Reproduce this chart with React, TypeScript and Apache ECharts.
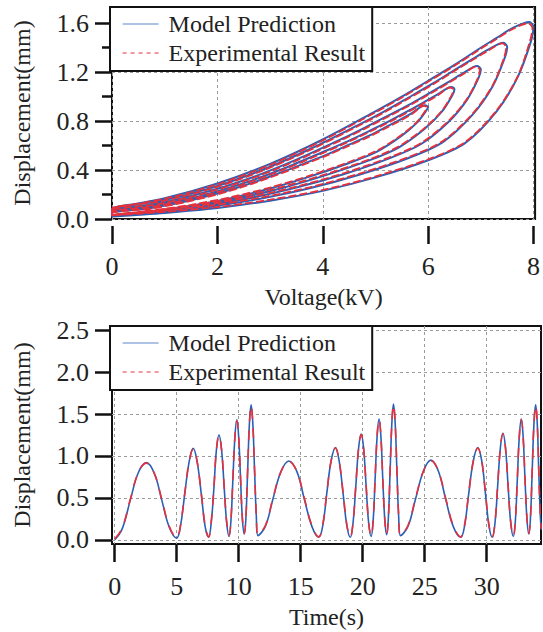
import React, { useEffect, useRef } from "react";
import * as echarts from "echarts";

const FONT = "'Liberation Serif', 'Times New Roman', serif";
const BLUE = "#2c5fb3";
const RED = "#e6303c";
const TEXT = "#222";
const GRIDC = "#9a9a9a";

const seriesNames = ["Model Prediction", "Experimental Result"];
const voltTicks = [0, 2, 4, 6, 8];
const dispTicksTop = [0, 0.4, 0.8, 1.2, 1.6];
const dispMinorTop = [0.2, 0.6, 1.0, 1.4];
const timeTicks = [0, 5, 10, 15, 20, 25, 30];
const dispTicksBottom = [0, 0.5, 1.0, 1.5, 2.0, 2.5];

// ---- hysteresis loops (voltage kV, displacement mm), model ----
const modelLoop60 = [
  [0, 0.031], [0.75, 0.062], [1.5, 0.108], [2.25, 0.17], [3, 0.249], [3.75, 0.346], [4.5, 0.458], [5.03, 0.551], [5.48, 0.675], [5.78, 0.784], [5.96, 0.883], [6.0, 0.916],
  [5.94, 0.93], [5.7, 0.868], [5.48, 0.814], [5.25, 0.763], [4.88, 0.681], [4.5, 0.608], [4.13, 0.537], [3.75, 0.471], [3, 0.347], [2.25, 0.239], [1.5, 0.154], [0.75, 0.09], [0, 0.047],
];
const modelLoop65 = [
  [0, 0.03], [0.81, 0.063], [1.63, 0.109], [2.44, 0.173], [3.25, 0.256], [4.06, 0.359], [4.88, 0.479], [5.44, 0.584], [5.93, 0.735], [6.26, 0.877], [6.46, 1.012], [6.5, 1.061],
  [6.44, 1.08], [6.18, 1.018], [5.93, 0.957], [5.69, 0.899], [5.28, 0.804], [4.88, 0.719], [4.47, 0.635], [4.06, 0.558], [3.25, 0.411], [2.44, 0.284], [1.63, 0.183], [0.81, 0.107], [0, 0.056],
];
const modelLoop70 = [
  [0, 0.029], [0.88, 0.061], [1.75, 0.107], [2.63, 0.172], [3.5, 0.257], [4.38, 0.364], [5.25, 0.494], [5.86, 0.611], [6.39, 0.795], [6.74, 0.976], [6.96, 1.155], [7.0, 1.224],
  [6.93, 1.25], [6.65, 1.188], [6.39, 1.121], [6.13, 1.055], [5.69, 0.946], [5.25, 0.847], [4.81, 0.749], [4.38, 0.658], [3.5, 0.485], [2.63, 0.335], [1.75, 0.216], [0.88, 0.126], [0, 0.067],
];
const modelLoop75 = [
  [0, 0.025], [0.94, 0.058], [1.88, 0.102], [2.81, 0.166], [3.75, 0.251], [4.69, 0.362], [5.63, 0.499], [6.28, 0.629], [6.84, 0.851], [7.22, 1.081], [7.45, 1.313], [7.5, 1.407],
  [7.43, 1.44], [7.13, 1.382], [6.84, 1.307], [6.56, 1.234], [6.09, 1.108], [5.63, 0.993], [5.16, 0.878], [4.69, 0.772], [3.75, 0.57], [2.81, 0.394], [1.88, 0.254], [0.94, 0.149], [0, 0.079],
];
const modelLoop80 = [
  [0, 0.02], [1, 0.05], [2, 0.09], [3, 0.15], [4, 0.23], [5, 0.34], [6, 0.48], [6.7, 0.62], [7.3, 0.88], [7.7, 1.16], [7.95, 1.45], [8.0, 1.57],
  [7.92, 1.61], [7.6, 1.56], [7.3, 1.48], [7, 1.4], [6.5, 1.26], [6, 1.13], [5.5, 1.0], [5, 0.88], [4, 0.65], [3, 0.45], [2, 0.29], [1, 0.17], [0, 0.09],
];

// ---- hysteresis loops, experiment ----
const expLoop60 = [
  [0, 0.036], [0.75, 0.07], [1.5, 0.116], [2.25, 0.178], [3, 0.257], [3.75, 0.354], [4.5, 0.466], [5.03, 0.559], [5.48, 0.683], [5.78, 0.79], [5.95, 0.886], [5.98, 0.913],
  [5.92, 0.925], [5.7, 0.86], [5.48, 0.806], [5.25, 0.755], [4.88, 0.673], [4.5, 0.6], [4.13, 0.529], [3.75, 0.463], [3, 0.339], [2.25, 0.232], [1.5, 0.148], [0.75, 0.086], [0, 0.05],
];
const expLoop65 = [
  [0, 0.035], [0.81, 0.071], [1.63, 0.117], [2.44, 0.181], [3.25, 0.264], [4.06, 0.367], [4.88, 0.487], [5.44, 0.592], [5.93, 0.743], [6.26, 0.884], [6.45, 1.015], [6.48, 1.058],
  [6.42, 1.075], [6.18, 1.01], [5.93, 0.949], [5.69, 0.891], [5.28, 0.796], [4.88, 0.711], [4.47, 0.627], [4.06, 0.55], [3.25, 0.403], [2.44, 0.277], [1.63, 0.177], [0.81, 0.103], [0, 0.06],
];
const expLoop70 = [
  [0, 0.034], [0.88, 0.069], [1.75, 0.115], [2.63, 0.18], [3.5, 0.265], [4.38, 0.372], [5.25, 0.502], [5.86, 0.619], [6.39, 0.803], [6.74, 0.983], [6.95, 1.158], [6.98, 1.222],
  [6.91, 1.245], [6.65, 1.18], [6.39, 1.113], [6.13, 1.047], [5.69, 0.938], [5.25, 0.839], [4.81, 0.741], [4.38, 0.65], [3.5, 0.477], [2.63, 0.328], [1.75, 0.21], [0.88, 0.122], [0, 0.07],
];
const expLoop75 = [
  [0, 0.03], [0.94, 0.066], [1.88, 0.11], [2.81, 0.174], [3.75, 0.259], [4.69, 0.37], [5.63, 0.507], [6.28, 0.637], [6.84, 0.859], [7.22, 1.088], [7.44, 1.316], [7.48, 1.404],
  [7.41, 1.435], [7.13, 1.374], [6.84, 1.299], [6.56, 1.226], [6.09, 1.1], [5.63, 0.985], [5.16, 0.87], [4.69, 0.764], [3.75, 0.562], [2.81, 0.387], [1.88, 0.248], [0.94, 0.145], [0, 0.082],
];
const expLoop80 = [
  [0, 0.03], [1, 0.058], [2, 0.098], [3, 0.158], [4, 0.238], [5, 0.348], [6, 0.488], [6.7, 0.628], [7.3, 0.888], [7.7, 1.166], [7.93, 1.45], [7.98, 1.56],
  [7.9, 1.6], [7.6, 1.552], [7.3, 1.472], [7, 1.392], [6.5, 1.252], [6, 1.122], [5.5, 0.992], [5, 0.872], [4, 0.642], [3, 0.442], [2, 0.284], [1, 0.166], [0, 0.092],
];

// ---- time series (s, mm) ----
const timeModel = [
  [0, 0], [0.6, 0.13], [1.25, 0.47], [1.9, 0.8], [2.55, 0.92], [3.2, 0.79], [3.8, 0.47], [4.4, 0.15], [5.0, 0.02],
  [5.3, 0.16], [5.65, 0.55], [6.0, 0.93], [6.33, 1.09], [6.65, 0.93], [7.0, 0.52], [7.3, 0.15], [7.57, 0.03],
  [7.78, 0.2], [8.0, 0.62], [8.2, 1.07], [8.41, 1.25], [8.62, 1.07], [8.83, 0.62], [9.03, 0.2], [9.22, 0.04],
  [9.37, 0.22], [9.53, 0.72], [9.69, 1.22], [9.85, 1.43], [10.0, 1.22], [10.15, 0.72], [10.3, 0.24], [10.45, 0.07],
  [10.58, 0.26], [10.72, 0.82], [10.86, 1.38], [11.0, 1.61], [11.14, 1.38], [11.28, 0.82], [11.42, 0.28], [11.55, 0.05],
  [12.15, 0.16], [12.75, 0.48], [13.4, 0.81], [14.05, 0.94], [14.7, 0.81], [15.3, 0.48], [15.9, 0.16], [16.45, 0.03],
  [16.78, 0.17], [17.1, 0.55], [17.45, 0.94], [17.8, 1.1], [18.1, 0.94], [18.42, 0.55], [18.72, 0.17], [19.0, 0.03],
  [19.22, 0.2], [19.44, 0.63], [19.66, 1.08], [19.88, 1.26], [20.08, 1.08], [20.28, 0.63], [20.48, 0.2], [20.68, 0.04],
  [20.84, 0.22], [21.0, 0.72], [21.16, 1.23], [21.32, 1.44], [21.47, 1.23], [21.62, 0.72], [21.78, 0.24], [21.93, 0.06],
  [22.07, 0.26], [22.21, 0.82], [22.35, 1.39], [22.48, 1.62], [22.62, 1.39], [22.76, 0.82], [22.9, 0.28], [23.05, 0.05],
  [23.65, 0.16], [24.25, 0.48], [24.9, 0.82], [25.5, 0.95], [26.1, 0.82], [26.7, 0.48], [27.3, 0.16], [27.9, 0.03],
  [28.22, 0.17], [28.55, 0.55], [28.92, 0.94], [29.28, 1.1], [29.6, 0.94], [29.9, 0.55], [30.18, 0.17], [30.45, 0.03],
  [30.67, 0.2], [30.88, 0.63], [31.1, 1.09], [31.31, 1.27], [31.52, 1.09], [31.73, 0.63], [31.94, 0.2], [32.15, 0.04],
  [32.31, 0.22], [32.47, 0.72], [32.63, 1.23], [32.79, 1.44], [32.94, 1.23], [33.09, 0.72], [33.25, 0.24], [33.4, 0.07],
  [33.53, 0.26], [33.67, 0.82], [33.81, 1.38], [33.95, 1.61], [34.08, 1.38], [34.2, 0.82], [34.32, 0.3], [34.4, 0.12],
];
const timeExp = [
  [0, 0.01], [0.6, 0.14], [1.25, 0.48], [1.9, 0.8], [2.55, 0.915], [3.2, 0.79], [3.8, 0.48], [4.4, 0.16], [5.0, 0.025],
  [5.3, 0.17], [5.65, 0.56], [6.0, 0.93], [6.33, 1.085], [6.65, 0.93], [7.0, 0.53], [7.3, 0.16], [7.57, 0.035],
  [7.78, 0.21], [8.0, 0.63], [8.2, 1.07], [8.41, 1.245], [8.62, 1.07], [8.83, 0.63], [9.03, 0.21], [9.22, 0.045],
  [9.37, 0.23], [9.53, 0.73], [9.69, 1.22], [9.85, 1.42], [10.0, 1.22], [10.15, 0.73], [10.3, 0.25], [10.45, 0.075],
  [10.58, 0.27], [10.72, 0.83], [10.86, 1.38], [11.0, 1.6], [11.14, 1.38], [11.28, 0.83], [11.42, 0.29], [11.55, 0.06],
  [12.15, 0.17], [12.75, 0.49], [13.4, 0.81], [14.05, 0.935], [14.7, 0.81], [15.3, 0.49], [15.9, 0.17], [16.45, 0.035],
  [16.78, 0.18], [17.1, 0.56], [17.45, 0.94], [17.8, 1.095], [18.1, 0.94], [18.42, 0.56], [18.72, 0.18], [19.0, 0.035],
  [19.22, 0.21], [19.44, 0.64], [19.66, 1.08], [19.88, 1.255], [20.08, 1.08], [20.28, 0.64], [20.48, 0.21], [20.68, 0.045],
  [20.84, 0.23], [21.0, 0.73], [21.16, 1.23], [21.32, 1.435], [21.47, 1.23], [21.62, 0.73], [21.78, 0.25], [21.93, 0.065],
  [22.07, 0.27], [22.21, 0.83], [22.35, 1.39], [22.48, 1.61], [22.62, 1.39], [22.76, 0.83], [22.9, 0.29], [23.05, 0.055],
  [23.65, 0.17], [24.25, 0.49], [24.9, 0.82], [25.5, 0.945], [26.1, 0.82], [26.7, 0.49], [27.3, 0.17], [27.9, 0.035],
  [28.22, 0.18], [28.55, 0.56], [28.92, 0.94], [29.28, 1.095], [29.6, 0.94], [29.9, 0.56], [30.18, 0.18], [30.45, 0.035],
  [30.67, 0.21], [30.88, 0.64], [31.1, 1.09], [31.31, 1.265], [31.52, 1.09], [31.73, 0.64], [31.94, 0.21], [32.15, 0.045],
  [32.31, 0.23], [32.47, 0.73], [32.63, 1.23], [32.79, 1.435], [32.94, 1.23], [33.09, 0.73], [33.25, 0.25], [33.4, 0.075],
  [33.53, 0.27], [33.67, 0.83], [33.81, 1.38], [33.95, 1.6], [34.08, 1.38], [34.2, 0.83], [34.32, 0.31], [34.4, 0.13],
];

const hystModel = [...modelLoop60, ...modelLoop65, ...modelLoop70, ...modelLoop75, ...modelLoop80];
const hystExp = [...expLoop60, ...expLoop65, ...expLoop70, ...expLoop75, ...expLoop80];

const textBase = { fontFamily: FONT, fontSize: 24, color: TEXT };
const tickText = { fontFamily: FONT, fontSize: 26, color: TEXT };
const dashed = { show: true, lineStyle: { type: [3, 3] as any, color: GRIDC, width: 1 } };
const tickStyle = { color: "#111", width: 2.5 };

function makeLegend(top: number) {
  return {
    show: true,
    left: 110,
    top,
    orient: "vertical",
    itemWidth: 36,
    itemHeight: 14,
    itemGap: 5,
    padding: [5, 7, 6, 12],
    borderColor: "#111",
    borderWidth: 2,
    backgroundColor: "#fff",
    z: 10,
    selectedMode: false,
    itemStyle: { opacity: 0 },
    textStyle: { ...textBase, padding: [0, 0, 0, 5] },
    data: [
      { name: seriesNames[0], lineStyle: { width: 1.2, color: "#5f86cc" } },
      { name: seriesNames[1], lineStyle: { width: 1.2, type: [4, 4], color: RED } },
    ],
  };
}

export default function App() {
  const ref = useRef<HTMLDivElement>(null);
  useEffect(() => {
    document.body.style.margin = "0";
    const chart = echarts.init(ref.current!, null, { renderer: "svg" });
    const option: any = {
      animation: false,
      backgroundColor: "#fff",
      grid: [
        { left: 112, top: 7, width: 429, height: 212, show: true, borderColor: "#111", borderWidth: 2, backgroundColor: "transparent" },
        { left: 112, top: 326, width: 429, height: 218, show: true, borderColor: "#111", borderWidth: 2, backgroundColor: "transparent" },
      ],
      legend: [makeLegend(7), makeLegend(326)],
      xAxis: [
        {
          type: "value", gridIndex: 0, min: 0, max: 8.03, interval: 2, offset: 7,
          axisLine: { show: false, onZero: false },
          axisTick: { show: true, length: 18, lineStyle: tickStyle, customValues: voltTicks },
          axisLabel: { ...tickText, margin: 27, customValues: voltTicks },
          splitLine: dashed,
          name: "Voltage(kV)", nameLocation: "middle", nameGap: 59, nameTextStyle: textBase,
        },
        {
          type: "value", gridIndex: 1, min: -0.22, max: 34.38, splitNumber: 7,
          axisLine: { show: false, onZero: false },
          axisTick: { show: true, length: 18, lineStyle: tickStyle, customValues: timeTicks },
          axisLabel: { ...tickText, margin: 29, customValues: timeTicks },
          splitLine: dashed,
          name: "Time(s)", nameLocation: "middle", nameGap: 61, nameTextStyle: textBase,
        },
      ],
      yAxis: [
        {
          type: "value", gridIndex: 0, min: 0, max: 1.733, interval: 0.2, position: "left",
          axisLine: { show: false, onZero: false },
          axisTick: { show: true, length: 17, lineStyle: tickStyle, customValues: dispTicksTop },
          axisLabel: { ...tickText, margin: 23, customValues: dispTicksTop, formatter: (v: number) => v.toFixed(1) },
          splitLine: dashed,
          name: "Displacement(mm)", nameLocation: "middle", nameGap: 78, nameTextStyle: textBase,
        },
        {
          type: "value", gridIndex: 0, min: 0, max: 1.733, position: "left",
          axisLine: { show: false, onZero: false },
          axisTick: { show: true, length: 10, lineStyle: tickStyle, customValues: dispMinorTop },
          axisLabel: { show: false },
          splitLine: { show: false },
        },
        {
          type: "value", gridIndex: 1, min: -0.05, max: 2.55, splitNumber: 5, position: "left",
          axisLine: { show: false, onZero: false },
          axisTick: { show: true, length: 17, lineStyle: tickStyle, customValues: dispTicksBottom },
          axisLabel: { ...tickText, margin: 23, customValues: dispTicksBottom, formatter: (v: number) => v.toFixed(1) },
          splitLine: dashed,
          name: "Displacement(mm)", nameLocation: "middle", nameGap: 78, nameTextStyle: textBase,
        },
      ],
      series: [
        {
          name: seriesNames[0], type: "line", xAxisIndex: 0, yAxisIndex: 0, data: hystModel,
          symbol: "none", showSymbol: false, smooth: 0.3,
          lineStyle: { color: BLUE, width: 2 }, itemStyle: { color: BLUE },
        },
        {
          name: seriesNames[1], type: "line", xAxisIndex: 0, yAxisIndex: 0, data: hystExp,
          symbol: "none", showSymbol: false, smooth: 0.3,
          lineStyle: { color: RED, width: 1.8, type: [8, 3] }, itemStyle: { color: RED },
        },
        {
          name: seriesNames[0], type: "line", xAxisIndex: 1, yAxisIndex: 2, data: timeModel,
          symbol: "none", showSymbol: false, smooth: 0.4,
          lineStyle: { color: BLUE, width: 1.6 }, itemStyle: { color: BLUE },
        },
        {
          name: seriesNames[1], type: "line", xAxisIndex: 1, yAxisIndex: 2, data: timeExp,
          symbol: "none", showSymbol: false, smooth: 0.4,
          lineStyle: { color: RED, width: 1.6, type: [10, 9] }, itemStyle: { color: RED },
        },
      ],
    };
    chart.setOption(option);
    return () => chart.dispose();
  }, []);
  return <div ref={ref} style={{ width: 543, height: 632 }} />;
}
